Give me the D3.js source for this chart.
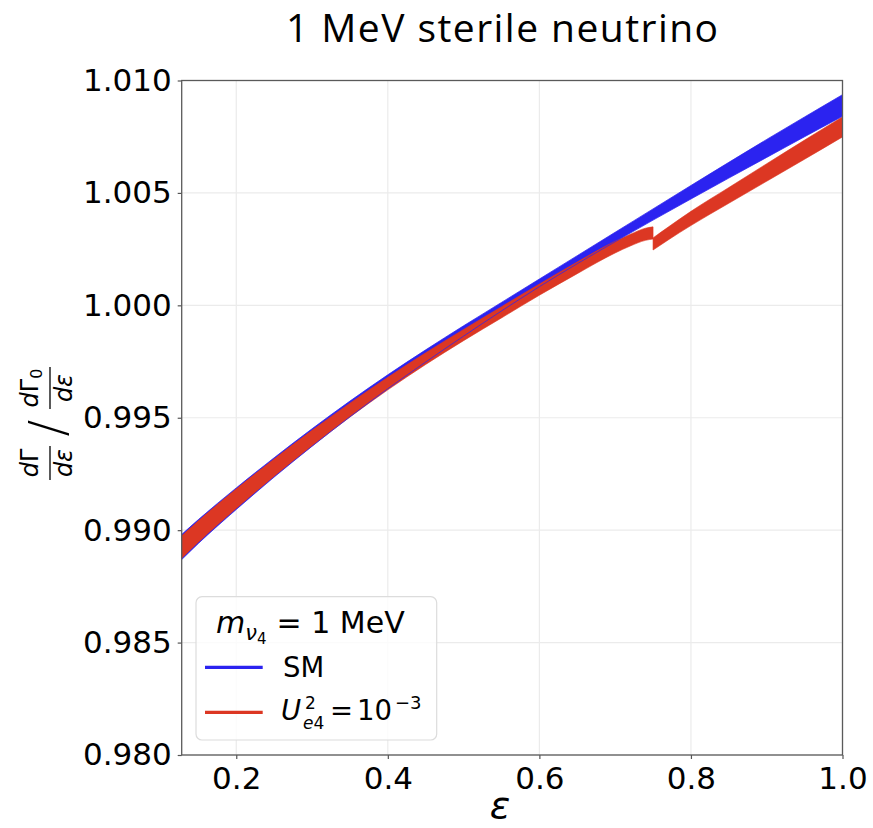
<!DOCTYPE html>
<html>
<head>
<meta charset="utf-8">
<script src="https://cdn.jsdelivr.net/npm/d3@7"></script>
<style>
body { margin: 0; background: #fff; }
text { font-family: "DejaVu Sans", sans-serif; fill: #000; }
</style>
</head>
<body>
<svg id="chart"></svg>
<script>

var screen = {width: 873, height: 828}
var margins = {top: 80.5, right: 30.5, bottom: 73, left: 181.7}

// SM band (blue)
var smEps  = [0.128, 0.15, 0.2, 0.25, 0.3, 0.35, 0.4, 0.45, 0.5, 0.55, 0.6, 0.65, 0.7, 0.75, 0.8, 0.85, 0.9, 0.95, 1.0]
var smLow  = [0.98869, 0.98941, 0.99092, 0.99236, 0.99373, 0.99504, 0.99629, 0.99748, 0.99863, 0.99975, 1.00083, 1.00185, 1.00283, 1.00379, 1.00473, 1.00566, 1.00658, 1.00750, 1.00841]
var smHigh = [0.98981, 0.99047, 0.99188, 0.99322, 0.99451, 0.99574, 0.99691, 0.99802, 0.99909, 1.00013, 1.00117, 1.00221, 1.00325, 1.00429, 1.00533, 1.00636, 1.00738, 1.00838, 1.00937]

// U_e4^2 = 1e-3 band (red); eps = 0.75 is listed twice, before and after the kink
var ueEps  = [0.128, 0.15, 0.2, 0.25, 0.3, 0.35, 0.4, 0.45, 0.5, 0.55, 0.6, 0.65, 0.7, 0.72, 0.74, 0.75, 0.75, 0.77, 0.8, 0.85, 0.9, 0.95, 1.0]
var ueLow  = [0.98875, 0.98946, 0.99096, 0.99239, 0.99374, 0.99503, 0.99624, 0.99737, 0.99843, 0.99944, 1.00045, 1.00141, 1.00233, 1.00264, 1.00289, 1.00295, 1.00246, 1.00291, 1.00355, 1.00454, 1.00552, 1.00650, 1.00749]
var ueHigh = [0.98975, 0.99042, 0.99184, 0.99317, 0.99444, 0.99565, 0.99680, 0.99789, 0.99893, 0.99994, 1.00095, 1.00193, 1.00285, 1.00316, 1.00343, 1.00349, 1.00300, 1.00348, 1.00418, 1.00524, 1.00630, 1.00735, 1.00839]

var xTicks = [0.2, 0.4, 0.6, 0.8, 1.0]
var yTicks = [0.980, 0.985, 0.990, 0.995, 1.000, 1.005, 1.010]

var blue = "#2b23f0"
var red = "#dc3723"

var svg = d3.select("#chart")
    .attr("width", screen.width)
    .attr("height", screen.height)

var width = screen.width - margins.left - margins.right
var height = screen.height - margins.top - margins.bottom

var xScale = d3.scaleLinear()
    .domain([0.128, 1.0])
    .range([margins.left, margins.left + width])

var yScale = d3.scaleLinear()
    .domain([0.980, 1.010])
    .range([margins.top + height, margins.top])

// grid
var grid = svg.append("g").attr("id", "grid")
grid.selectAll(".gx")
    .data(xTicks)
    .enter()
    .append("line")
    .attr("x1", function(d){return xScale(d)})
    .attr("x2", function(d){return xScale(d)})
    .attr("y1", margins.top)
    .attr("y2", margins.top + height)
    .attr("stroke", "#ebebeb")
    .attr("stroke-width", 1.2)
grid.selectAll(".gy")
    .data(yTicks)
    .enter()
    .append("line")
    .attr("x1", margins.left)
    .attr("x2", margins.left + width)
    .attr("y1", function(d){return yScale(d)})
    .attr("y2", function(d){return yScale(d)})
    .attr("stroke", "#ebebeb")
    .attr("stroke-width", 1.2)

var makeBand = function(eps, lo, hi)
{
    return eps.map(function(e, i){ return {x: e, lo: lo[i], hi: hi[i]} })
}

var area = d3.area()
    .x(function(d){return xScale(d.x)})
    .y0(function(d){return yScale(d.lo)})
    .y1(function(d){return yScale(d.hi)})
    .curve(d3.curveMonotoneX)

var smBand = makeBand(smEps, smLow, smHigh)
var ueBand = makeBand(ueEps, ueLow, ueHigh)

// split the red band where eps repeats (the kink)
var kink = ueEps.findIndex(function(e, i){ return i > 0 && e === ueEps[i - 1] })
var ueParts = [ueBand.slice(0, kink), ueBand.slice(kink)]

var plot = svg.append("g").attr("id", "graph")

plot.append("path")
    .datum(smBand)
    .attr("d", area)
    .attr("fill", blue)

plot.selectAll(".ue")
    .data(ueParts)
    .enter()
    .append("path")
    .attr("d", area)
    .attr("fill", red)
    .attr("stroke", red)
    .attr("stroke-width", 0.6)

// thin edges of the SM band show through
var edge = function(key)
{
    return d3.line()
        .x(function(d){return xScale(d.x)})
        .y(function(d){return yScale(d[key])})
        .curve(d3.curveMonotoneX)
}
plot.append("path").datum(smBand).attr("d", edge("lo"))
    .attr("fill", "none").attr("stroke", blue).attr("stroke-width", 1).attr("opacity", 0.75)
plot.append("path").datum(smBand).attr("d", edge("hi"))
    .attr("fill", "none").attr("stroke", blue).attr("stroke-width", 1).attr("opacity", 0.75)

// axes
var xAxis = d3.axisBottom(xScale)
    .tickValues(xTicks)
    .tickFormat(d3.format(".1f"))
    .tickSizeInner(4)
    .tickSizeOuter(0)
    .tickPadding(8)

var yAxis = d3.axisLeft(yScale)
    .tickValues(yTicks)
    .tickFormat(d3.format(".3f"))
    .tickSizeInner(4)
    .tickSizeOuter(0)
    .tickPadding(6)

svg.append("g")
    .attr("transform", "translate(0," + (margins.top + height) + ")")
    .call(xAxis)
svg.append("g")
    .attr("transform", "translate(" + margins.left + ",0)")
    .call(yAxis)

svg.selectAll(".domain").remove()
svg.selectAll(".tick line").attr("stroke", "#555").attr("stroke-width", 1.2)
svg.selectAll(".tick text")
    .attr("font-family", "DejaVu Sans")
    .attr("font-size", 31)
    .attr("fill", "#000")

// frame
svg.append("rect")
    .attr("x", margins.left)
    .attr("y", margins.top)
    .attr("width", width)
    .attr("height", height)
    .attr("fill", "none")
    .attr("stroke", "#5a5a5a")
    .attr("stroke-width", 1.3)

// title
svg.append("text")
    .attr("x", 502)
    .attr("y", 41.5)
    .attr("text-anchor", "middle")
    .style("font-family", "'Open Sans'")
    .attr("font-size", 39)
    .attr("textLength", 432)
    .attr("lengthAdjust", "spacing")
    .text("1 MeV sterile neutrino")

// x label
svg.append("text")
    .attr("x", 500)
    .attr("y", 818)
    .attr("text-anchor", "middle")
    .attr("font-size", 38)
    .attr("font-style", "italic")
    .text("ε")

// y label: (dΓ/dε) / (dΓ0/dε), rotated
var ylab = svg.append("g").attr("transform", "translate(48,422) rotate(-90)")

var fraction = function(cx, withSub)
{
    var num = ylab.append("text")
        .attr("x", cx)
        .attr("y", -10)
        .attr("text-anchor", "middle")
        .attr("font-size", 24)
    num.append("tspan").attr("font-style", "italic").text("d")
    num.append("tspan").text("Γ")
    if (withSub)
    {
        num.append("tspan").attr("font-size", 16).attr("dy", 4).text("0")
    }
    ylab.append("line")
        .attr("x1", cx - (withSub ? 21 : 17))
        .attr("x2", cx + (withSub ? 21 : 17))
        .attr("y1", 2)
        .attr("y2", 2)
        .attr("stroke", "#000")
        .attr("stroke-width", 1.3)
    ylab.append("text")
        .attr("x", cx)
        .attr("y", 24)
        .attr("text-anchor", "middle")
        .attr("font-size", 24)
        .attr("font-style", "italic")
        .text("dε")
}
fraction(-41, false)
fraction(34, true)
ylab.append("text")
    .attr("x", -6)
    .attr("y", 16)
    .attr("text-anchor", "middle")
    .attr("font-size", 50)
    .attr("font-weight", 200)
    .text("/")

// legend
var legend = svg.append("g").attr("id", "legend")
legend.append("rect")
    .attr("x", 196)
    .attr("y", 596.7)
    .attr("width", 240.7)
    .attr("height", 143.3)
    .attr("rx", 6)
    .attr("fill", "#fff")
    .attr("fill-opacity", 0.8)
    .attr("stroke", "#dcdcdc")
    .attr("stroke-width", 1.2)

var lt = legend.append("text")
    .attr("x", 216)
    .attr("y", 633)
    .attr("font-size", 30)
lt.append("tspan").attr("font-style", "italic").text("m")
lt.append("tspan").attr("font-style", "italic").attr("font-size", 21).attr("dy", 7).text("ν")
lt.append("tspan").attr("font-size", 15).attr("dy", 4).text("4")
lt.append("tspan").attr("dy", -11).attr("dx", 10).text("= 1 MeV")

var entries = [{name: "SM", color: blue}, {name: "Ue4", color: red}]
var rows = legend.selectAll(".row")
    .data(entries)
    .enter()
    .append("g")
    .attr("transform", function(d, i){ return "translate(0," + (667.3 + i * 45) + ")" })
rows.append("line")
    .attr("x1", 205)
    .attr("x2", 262.7)
    .attr("stroke", function(d){return d.color})
    .attr("stroke-width", 3.2)

legend.append("text")
    .attr("x", 283)
    .attr("y", 677)
    .attr("font-size", 27.5)
    .text("SM")

// U_e4^2 = 10^-3 with stacked super/subscript
legend.append("text").attr("x", 281).attr("y", 720).attr("font-size", 27.5)
    .attr("font-style", "italic").text("U")
legend.append("text").attr("x", 305).attr("y", 709).attr("font-size", 17).text("2")
var sub = legend.append("text").attr("x", 303).attr("y", 729).attr("font-size", 17)
sub.append("tspan").attr("font-style", "italic").text("e")
sub.append("tspan").text("4")
legend.append("text").attr("x", 330).attr("y", 720).attr("font-size", 27.5).text("=")
legend.append("text").attr("x", 357).attr("y", 720).attr("font-size", 27.5).text("10")
legend.append("text").attr("x", 395).attr("y", 709).attr("font-size", 18).text("−3")

</script>
</body>
</html>
